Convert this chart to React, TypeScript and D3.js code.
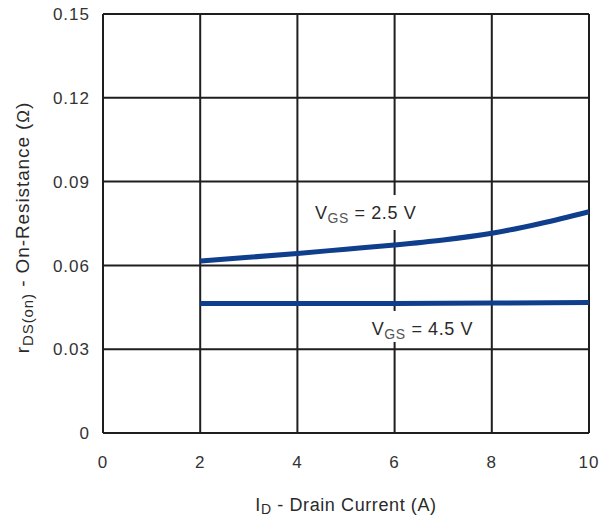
import React from "react";
import { scaleLinear, line, curveMonotoneX } from "d3";

// drain current (A) and on-resistance (ohm)
const current25 = [2, 3, 4, 5, 6, 7, 8, 9, 10];
const rds25 = [0.0616, 0.0629, 0.0643, 0.0658, 0.0673, 0.0691, 0.0715, 0.075, 0.0792];
const current45 = [2, 4, 6, 8, 10];
const rds45 = [0.0464, 0.0464, 0.0464, 0.0465, 0.0467];

const xTicks = [0, 2, 4, 6, 8, 10];
const yTicks = [0, 0.03, 0.06, 0.09, 0.12, 0.15];
const yTickLabels = ["0", "0.03", "0.06", "0.09", "0.12", "0.15"];

const W = 601;
const H = 518;
const margin = { top: 14, right: 12, bottom: 85, left: 103 };
const font = "Arial, 'Liberation Sans', sans-serif";
const ink = "#1e1e1e";
const blue = "#0f3e8c";

export default function App() {
  const x = scaleLinear().domain([0, 10]).range([margin.left, W - margin.right]);
  const y = scaleLinear().domain([0, 0.15]).range([H - margin.bottom, margin.top]);

  const path = line<[number, number]>()
    .x(d => x(d[0]))
    .y(d => y(d[1]))
    .curve(curveMonotoneX);

  const s25 = current25.map((c, i) => [c, rds25[i]] as [number, number]);
  const s45 = current45.map((c, i) => [c, rds45[i]] as [number, number]);

  // curve labels, placed in data units
  const labels = [
    { at: [4.36, 0.0766], text: "2.5 V", w: 106 },
    { at: [5.53, 0.0351], text: "4.5 V", w: 108 },
  ];

  return (
    <svg
      width={W}
      height={H}
      style={{ position: "absolute", left: 0, top: 0, background: "white" }}
      fontFamily={font}
    >
      {/* grid */}
      {xTicks.map(t => (
        <line key={"gx" + t} x1={x(t)} x2={x(t)} y1={y(0)} y2={y(0.15)} stroke={ink} strokeWidth={2} />
      ))}
      {yTicks.map(t => (
        <line key={"gy" + t} x1={x(0)} x2={x(10)} y1={y(t)} y2={y(t)} stroke={ink} strokeWidth={2} />
      ))}

      {/* white boxes behind the curve labels */}
      {labels.map((l, i) => (
        <rect
          key={"bg" + i}
          x={x(l.at[0]) - 2}
          y={y(l.at[1]) - 24}
          width={l.w}
          height={i === 0 ? 35 : 31}
          fill="white"
        />
      ))}

      {/* curves */}
      <path d={path(s25) ?? ""} fill="none" stroke={blue} strokeWidth={5} strokeLinecap="butt" />
      <path d={path(s45) ?? ""} fill="none" stroke={blue} strokeWidth={5} strokeLinecap="butt" />

      {labels.map((l, i) => (
        <text key={"lb" + i} x={x(l.at[0])} y={y(l.at[1])} fontSize={18} fill="#2a2a2a" letterSpacing={0.6}>
          V
          <tspan fontSize={14} dy={4} fill="#555">GS</tspan>
          <tspan dy={-4}>{" = " + l.text}</tspan>
        </text>
      ))}

      {/* tick labels */}
      {xTicks.map(t => (
        <text key={"tx" + t} x={x(t)} y={y(0) + 35} textAnchor="middle" fontSize={17} fill="#333" letterSpacing={1}>
          {t}
        </text>
      ))}
      {yTicks.map((t, i) => (
        <text
          key={"ty" + t}
          x={x(0) - 13}
          y={y(t)}
          dy="0.36em"
          textAnchor="end"
          fontSize={17}
          fill="#333"
          letterSpacing={1}
        >
          {yTickLabels[i]}
        </text>
      ))}

      {/* axis titles */}
      <text x={(x(0) + x(10)) / 2} y={H - 7} textAnchor="middle" fontSize={18} fill="#2a2a2a" letterSpacing={0.6}>
        I<tspan fontSize={14} dy={3}>D</tspan>
        <tspan dy={-3}> - Drain Current (A)</tspan>
      </text>
      <text
        transform={`translate(29, ${(y(0) + y(0.15)) / 2 + 4}) rotate(-90)`}
        textAnchor="middle"
        fontSize={19}
        fill="#2a2a2a"
        letterSpacing={0.9}
      >
        r<tspan fontSize={15} dy={4}>DS(on)</tspan>
        <tspan dy={-4}> - On-Resistance (</tspan>
        <tspan fontSize={17}>Ω</tspan>
        <tspan>)</tspan>
      </text>
    </svg>
  );
}
